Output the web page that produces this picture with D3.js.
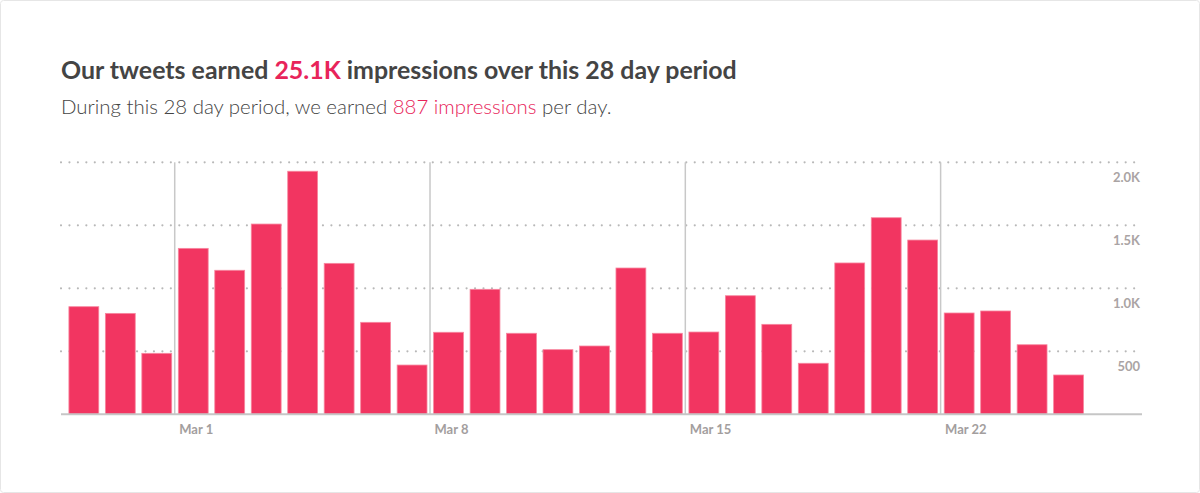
<!DOCTYPE html>
<html>
<head>
<meta charset="utf-8">
<script src="https://cdn.jsdelivr.net/npm/d3@7"></script>
<style>
  html, body { margin: 0; padding: 0; background: #fff; }
  svg { display: block; }
</style>
</head>
<body>
<svg id="chart" width="1200" height="493"></svg>
<script>
// ---- data ----
const startDate = "2015-02-26";
const impressions = [854, 801, 484, 1317, 1143, 1510, 1929, 1198, 730, 391,
                     651, 992, 643, 513, 542, 1161, 643, 653, 941, 714,
                     405, 1201, 1560, 1383, 804, 820, 552, 312];
const yTicks = [500, 1000, 1500, 2000];
const yTickLabels = ["500", "1.0K", "1.5K", "2.0K"];
const xTickDates = ["2015-03-01", "2015-03-08", "2015-03-15", "2015-03-22"];
const xTickLabels = ["Mar 1", "Mar 8", "Mar 15", "Mar 22"];
const titleParts = [["Our tweets earned ", false], ["25.1K", true], [" impressions over this 28 day period", false]];
const subtitleParts = [["During this 28 day period, we earned ", false], ["887 impressions", true], [" per day.", false]];

// ---- setup ----
const W = 1200, H = 493;
const svg = d3.select("#chart");
const parse = d3.utcParse("%Y-%m-%d");
const day0 = parse(startDate);
const days = impressions.map((v, i) => ({ date: d3.utcDay.offset(day0, i), value: v }));

const pink = "#f23561";
const accent = "#e8245a";

// page border
svg.append("rect").attr("x", 0.5).attr("y", 0.5).attr("width", W - 1).attr("height", H - 1)
  .attr("rx", 3).attr("fill", "#fff").attr("stroke", "#e6e6e6");

// scales
const x = d3.scaleUtc()
  .domain([day0, d3.utcDay.offset(day0, impressions.length)])
  .range([65.3, 1086.5]);
const y = d3.scaleLinear().domain([0, 2000]).range([414.3, 162.3]);
const gridX0 = 61, gridX1 = 1142;

// title
function richText(parts, xPos, yPos, size, weight, color, targetW) {
  const t = svg.append("text").attr("x", xPos).attr("y", yPos)
    .attr("font-family", "Lato, 'Open Sans', sans-serif")
    .attr("font-size", size).attr("font-weight", weight).attr("fill", color);
  parts.forEach(([s, hi]) => {
    t.append("tspan").text(s).attr("fill", hi ? accent : color);
  });
  const w = t.node().getComputedTextLength();
  if (targetW && w > 0) t.attr("font-size", size * targetW / w);
  return t;
}
richText(titleParts, 61, 79, 23, 700, "#444444", 676);
richText(subtitleParts, 61, 114, 18, 300, "#444444", 551);

// horizontal dotted grid
svg.append("g").selectAll("line").data(yTicks).join("line")
  .attr("x1", gridX0).attr("x2", gridX1)
  .attr("y1", d => y(d)).attr("y2", d => y(d))
  .attr("stroke", "#b8b8b8").attr("stroke-width", 2.2)
  .attr("stroke-linecap", "round")
  .attr("stroke-dasharray", "0 8.45");

// y labels
svg.append("g").selectAll("text").data(yTicks).join("text")
  .attr("x", 1140).attr("y", d => y(d) + 20)
  .attr("text-anchor", "end")
  .attr("font-family", "Lato, 'Open Sans', sans-serif")
  .attr("font-size", 13).attr("font-weight", 700)
  .attr("fill", "#aaa4a4")
  .text((d, i) => yTickLabels[i]);

// vertical week lines
const xTicks = xTickDates.map(parse);
svg.append("g").selectAll("line").data(xTicks).join("line")
  .attr("x1", d => x(d)).attr("x2", d => x(d))
  .attr("y1", y(2000)).attr("y2", y(0))
  .attr("stroke", "#c8c8c8").attr("stroke-width", 1.5);

// bars
const slot = x(d3.utcDay.offset(day0, 1)) - x(day0);
svg.append("g").selectAll("rect").data(days).join("rect")
  .attr("x", d => x(d.date) + 3.6)
  .attr("width", slot - 6.6)
  .attr("y", d => y(d.value))
  .attr("height", d => y(0) - y(d.value))
  .attr("fill", pink)
  .attr("stroke", "#f7879f").attr("stroke-width", 0.8);

// baseline
svg.append("line").attr("x1", gridX0).attr("x2", gridX1)
  .attr("y1", y(0)).attr("y2", y(0))
  .attr("stroke", "#c6c6c6").attr("stroke-width", 2);

// x labels
svg.append("g").selectAll("text").data(xTicks).join("text")
  .attr("x", d => x(d) + 4.5).attr("y", 434)
  .attr("font-family", "Lato, 'Open Sans', sans-serif")
  .attr("font-size", 13).attr("font-weight", 700)
  .attr("fill", "#a39e9e")
  .text((d, i) => xTickLabels[i]);
</script>
</body>
</html>
